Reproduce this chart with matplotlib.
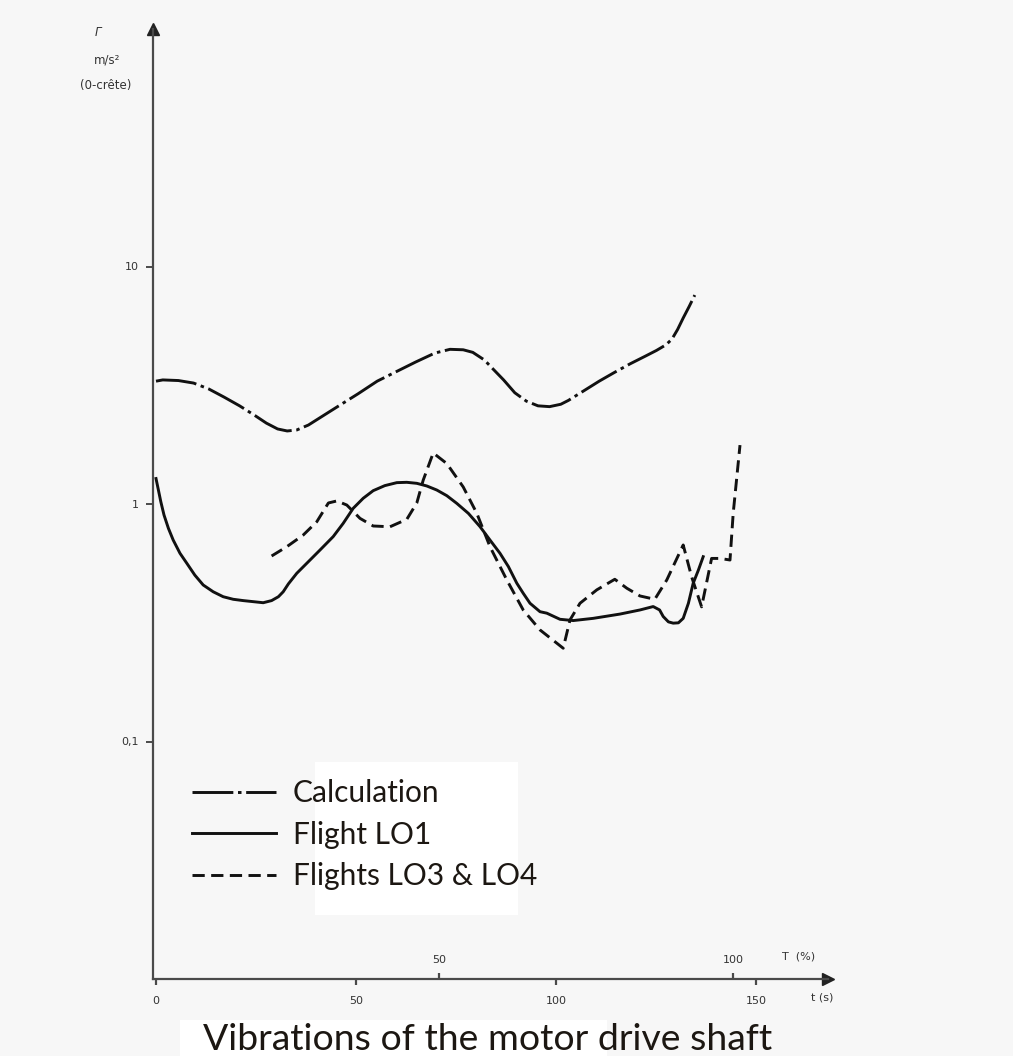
import matplotlib
matplotlib.use("Agg")
import matplotlib.pyplot as plt
from matplotlib.patches import Rectangle

# valeurs (t en s, gamma en m/s2)
t_calc = [0, 1.7, 5.6, 9.4, 13.2, 17.0, 20.9, 24.7, 27.6, 30.4, 32.8, 35.2, 38.1,
          41.9, 45.7, 50.5, 55.3, 60.1, 64.9, 69.7, 73.5, 76.8, 79.2, 82.1, 84.0,
          86.9, 89.7, 92.6, 95.5, 98.4, 101.2, 103.1, 107.0, 110.8, 114.6, 118.5,
          122.3, 125.1, 127.5, 129.0, 130.4, 131.8, 133.3, 134.7]
g_calc = [3.29, 3.33, 3.31, 3.23, 3.05, 2.82, 2.59, 2.36, 2.19, 2.07, 2.03, 2.05,
          2.15, 2.36, 2.59, 2.91, 3.29, 3.61, 3.96, 4.32, 4.48, 4.46, 4.35, 4.04,
          3.74, 3.33, 2.94, 2.71, 2.59, 2.57, 2.63, 2.73, 3.00, 3.29, 3.58, 3.89,
          4.19, 4.43, 4.68, 4.95, 5.43, 6.07, 6.79, 7.58]

t_lo1 = [0, 0.6, 1.2, 2.0, 3.1, 4.3, 6.0, 7.7, 9.7, 11.8, 14.3, 16.8, 19.3, 21.8,
         24.3, 26.8, 28.9, 30.6, 31.8, 33.1, 35.2, 37.7, 41.0, 44.3, 46.8, 49.3,
         51.8, 54.3, 57.2, 60.2, 62.7, 65.2, 67.7, 70.2, 72.7, 75.2, 78.1, 81.0,
         83.5, 86.0, 88.1, 90.2, 91.8, 93.5, 96.0, 97.7, 101.0, 104.3, 109.3,
         116.0, 121.0, 124.3, 125.9, 126.8, 128.1, 129.3, 130.6, 131.8, 133.1,
         134.3, 135.6, 136.8]
g_lo1 = [1.28, 1.145, 1.023, 0.899, 0.790, 0.705, 0.620, 0.563, 0.502, 0.456,
         0.427, 0.407, 0.397, 0.392, 0.388, 0.384, 0.392, 0.407, 0.427, 0.461,
         0.511, 0.563, 0.640, 0.729, 0.829, 0.959, 1.057, 1.138, 1.195, 1.230,
         1.234, 1.222, 1.191, 1.145, 1.084, 1.006, 0.913, 0.803, 0.705, 0.620,
         0.545, 0.464, 0.421, 0.382, 0.352, 0.347, 0.327, 0.323, 0.330, 0.344,
         0.358, 0.370, 0.358, 0.336, 0.319, 0.315, 0.316, 0.330, 0.382, 0.464,
         0.527, 0.600]

t_lo34 = [28.9, 32.7, 36.8, 40.2, 43.1, 45.2, 47.7, 51.0, 54.3, 58.5, 62.7, 65.2,
          66.8, 69.3, 72.7, 76.8, 80.2, 83.5, 87.7, 91.8, 96.0, 101.8, 103.5,
          106.0, 110.2, 114.7, 117.7, 121.0, 124.7, 127.7, 131.8, 133.9, 136.4,
          138.9, 141.0, 143.5, 144.3, 146.0]
g_lo34 = [0.604, 0.661, 0.740, 0.842, 1.01, 1.03, 0.99, 0.87, 0.808, 0.802, 0.862,
          1.01, 1.26, 1.64, 1.48, 1.18, 0.914, 0.661, 0.479, 0.358, 0.295, 0.247,
          0.325, 0.382, 0.435, 0.482, 0.442, 0.410, 0.397, 0.479, 0.672, 0.494,
          0.369, 0.590, 0.590, 0.581, 0.914, 1.77]

t_ticks = [0, 50, 100, 150]
T_ticks = [50, 100]
y_ticks = [0.1, 1, 10]
y_labels = ["0,1", "1", "10"]
labels = ["Calculation", "Flight LO1", "Flights LO3 & LO4"]

bg = "#f7f7f7"
ink = "#111111"
axc = "#4a4a4a"

fig = plt.figure(figsize=(10.13, 10.56), dpi=100, facecolor=bg)

# cadres blancs (legende et titre)
fig.patches.append(Rectangle((315 / 1013, 1 - 915 / 1056), 203 / 1013, 153 / 1056,
                             transform=fig.transFigure, facecolor="white",
                             edgecolor="none", zorder=0))
fig.patches.append(Rectangle((180 / 1013, 0), 427 / 1013, 36 / 1056,
                             transform=fig.transFigure, facecolor="white",
                             edgecolor="none", zorder=0))

ax = fig.add_axes([153 / 1013, 1 - 979 / 1056, 675 / 1013, 950 / 1056])
ax.set_facecolor("none")
ax.set_yscale("log")
ax.set_xlim(-0.75, 168)
ax.set_ylim(0.01, 100)

l1, = ax.plot(t_calc, g_calc, color=ink, lw=2.1, linestyle=(0, (14, 1.6, 1.2, 1.6)))
l2, = ax.plot(t_lo1, g_lo1, color=ink, lw=2.1, solid_joinstyle="round")
l3, = ax.plot(t_lo34, g_lo34, color=ink, lw=2.1, linestyle=(0, (4.2, 2.2)))

for s in ["top", "right"]:
    ax.spines[s].set_visible(False)
for s in ["left", "bottom"]:
    ax.spines[s].set_color(axc)
    ax.spines[s].set_linewidth(1.6)

# fleches des axes
ax.plot(0, 1, marker="^", color="#222222", ms=9, transform=ax.transAxes, clip_on=False)
ax.plot(1, 0, marker=">", color="#222222", ms=9, transform=ax.transAxes, clip_on=False)

ax.set_yticks(y_ticks)
ax.set_yticklabels(y_labels)
ax.yaxis.set_minor_locator(matplotlib.ticker.NullLocator())
ax.tick_params(axis="y", length=5, width=1.4, color=axc, pad=5, labelsize=8,
               labelcolor="#333333")
ax.set_xticks(t_ticks)
ax.tick_params(axis="x", length=4, width=1.6, color=axc, pad=8, labelsize=8,
               labelcolor="#333333")

# echelle T (%) au-dessus de l'axe
secax = ax.secondary_xaxis(0, functions=(lambda t: (t + 2.75) / 1.47,
                                         lambda T: 1.47 * T - 2.75))
secax.set_alignment("top")
secax.spines["top"].set_visible(False)
secax.set_xticks(T_ticks)
secax.tick_params(axis="x", length=4, width=1.6, color=axc, pad=6, labelsize=8,
                  labelcolor="#333333")

ax.text(0.957, 0.024, "T  (%)", transform=ax.transAxes, ha="center", va="center",
        fontsize=8, color="#333333")
ax.text(0.991, -0.019, "t (s)", transform=ax.transAxes, ha="center", va="center",
        fontsize=8, color="#333333")

fig.text(98 / 1013, 1 - 32 / 1056, "Γ", ha="center", va="center", fontsize=8.5,
         color="#333333", style="italic")
fig.text(107 / 1013, 1 - 60 / 1056, "m/s²", ha="center", va="center", fontsize=8.5,
         color="#333333")
fig.text(106 / 1013, 1 - 85 / 1056, "(0-crête)", ha="center", va="center",
         fontsize=8.5, color="#333333")

leg = fig.legend([l1, l2, l3], labels, loc="upper left",
                 bbox_to_anchor=(192 / 1013, 1 - 779 / 1056), frameon=False,
                 prop={"family": "Lato", "size": 21.5}, handlelength=2.8,
                 handletextpad=0.57, labelspacing=0.46, borderpad=0, borderaxespad=0)
for txt in leg.get_texts():
    txt.set_color("#1c1712")

fig.text(203 / 1013, 0, "Vibrations of the motor drive shaft",
         ha="left", va="bottom", fontsize=26.9, family="Lato", color="#1c1712")

fig.savefig("out.png", dpi=100, facecolor=bg)
